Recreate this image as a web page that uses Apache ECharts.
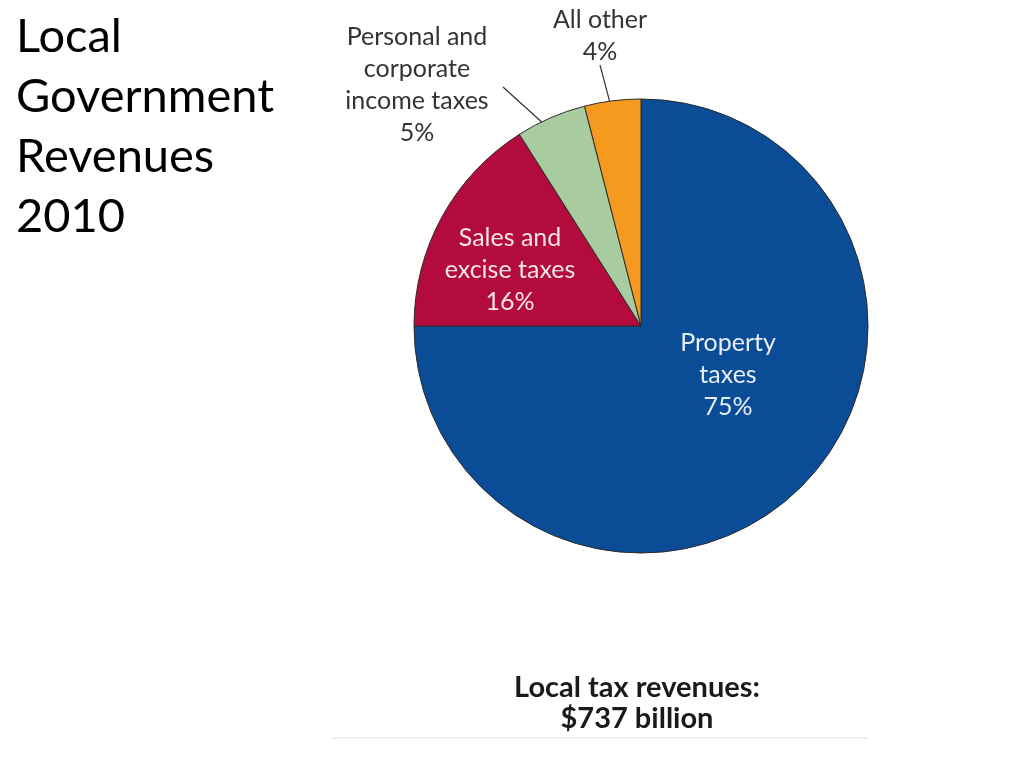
<!DOCTYPE html>
<html>
<head>
<meta charset="utf-8">
<script src="https://cdn.jsdelivr.net/npm/echarts@6/dist/echarts.min.js"></script>
<style>
  html, body { margin: 0; padding: 0; background: #fff; }
  #box { width: 1024px; height: 768px; }
</style>
</head>
<body>
<div id="box"></div>
<script>
// 数据
var categories = ['Property\ntaxes', 'Sales and\nexcise taxes', 'Personal and\ncorporate\nincome taxes', 'All other'];
var shares = [75, 16, 5, 4];
var colors = ['#0B4C97', '#B30B3E', '#A8CC9F', '#F59A1F'];
var labelColors = ['#E6EEF8', '#F6E4EA', '#333333', '#333333'];
// 标签位置 (文字中心) 与引线起点
var labelSpots = [[728, 375], [510, 270], [417, 85], [600, 36]];
var lineStarts = [null, null, [503, 87], [600, 65]];

var pieCenter = [641, 326];
var pieRadius = 227;

var myChart = echarts.init(document.getElementById('box'));

var total = shares.reduce(function(a, b) { return a + b; }, 0);
// 每块的中间角度 (从12点顺时针)
var midAngles = [];
var acc = 0;
shares.forEach(function(v) {
    midAngles.push(90 - (acc + v / 2) / total * 360);
    acc += v;
});

var data = categories.map(function(name, i) {
    var inside = i < 2;
    return {
        name: name,
        value: shares[i],
        itemStyle: { color: colors[i] },
        label: {
            position: inside ? 'inside' : 'outside',
            color: labelColors[i]
        },
        labelLine: {
            show: !inside,
            length: 10,
            length2: 0,
            lineStyle: { color: '#333', width: 1.2 }
        }
    };
});

var option = {
    animation: false,
    title: {
        text: 'Local\nGovernment\nRevenues\n2010',
        left: 11,
        top: 2,
        textStyle: {
            fontFamily: 'Lato',
            fontWeight: 'normal',
            fontSize: 47,
            lineHeight: 60,
            color: '#000'
        }
    },
    graphic: [{
        type: 'text',
        style: {
            text: 'Local tax revenues:\n$737 billion',
            x: 637,
            y: 672,
            align: 'center',
            verticalAlign: 'top',
            font: 'bold 29px Lato',
            lineHeight: 31,
            fill: '#1a1a1a'
        }
    }, {
        type: 'line',
        shape: { x1: 333, y1: 738, x2: 868, y2: 738 },
        style: { stroke: '#eef0ee', lineWidth: 2 }
    }],
    series: [{
        type: 'pie',
        center: pieCenter,
        radius: pieRadius,
        startAngle: 90,
        clockwise: true,
        itemStyle: { borderColor: '#2b2b2b', borderWidth: 1 },
        label: {
            formatter: function(p) { return p.name + '\n' + p.value + '%'; },
            fontFamily: 'Lato',
            fontSize: 25,
            lineHeight: 32,
            align: 'center'
        },
        labelLayout: function(params) {
            var i = params.dataIndex;
            var s = labelSpots[i];
            var out = { x: s[0], y: s[1], align: 'center', verticalAlign: 'middle' };
            if (lineStarts[i]) {
                var a = midAngles[i] * Math.PI / 180;
                var r = pieRadius * 0.9;
                var inner = [pieCenter[0] + r * Math.cos(a), pieCenter[1] - r * Math.sin(a)];
                var st = lineStarts[i];
                out.labelLinePoints = [st, [(st[0] + inner[0]) / 2, (st[1] + inner[1]) / 2], inner];
            }
            return out;
        },
        emphasis: { disabled: true },
        data: data
    }]
};
myChart.setOption(option);
</script>
</body>
</html>
